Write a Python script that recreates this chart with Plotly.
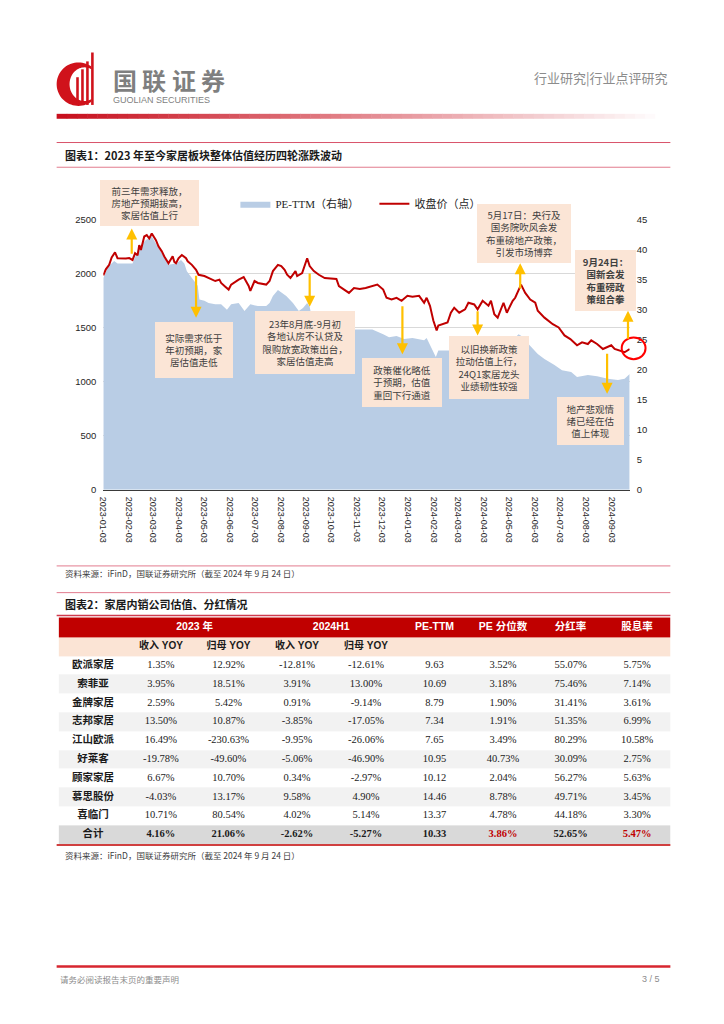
import math
import plotly.graph_objects as go

W, H = 724, 1024
def px(x): return x / W
def py(y): return 1 - y / H

# ---------------- chart data ----------------
close_dates = ['2023-01-03','2023-01-06','2023-01-10','2023-01-13','2023-01-17','2023-01-19','2023-01-20','2023-01-30',
 '2023-02-03','2023-02-07','2023-02-10','2023-02-13','2023-02-15','2023-02-17','2023-02-21','2023-02-24','2023-02-27',
 '2023-03-02','2023-03-07','2023-03-10','2023-03-14','2023-03-17','2023-03-20','2023-03-22','2023-03-27','2023-03-29',
 '2023-03-31','2023-04-03','2023-04-07','2023-04-12','2023-04-14','2023-04-19','2023-04-24','2023-04-27','2023-05-04',
 '2023-05-09','2023-05-12','2023-05-17','2023-05-22','2023-05-24','2023-05-29','2023-06-02','2023-06-05','2023-06-09',
 '2023-06-14','2023-06-20','2023-06-26','2023-06-28','2023-07-03','2023-07-07','2023-07-12','2023-07-17','2023-07-21',
 '2023-07-25','2023-07-31','2023-08-04','2023-08-08','2023-08-11','2023-08-15','2023-08-21','2023-08-23','2023-08-29',
 '2023-09-04','2023-09-07','2023-09-12','2023-09-18','2023-09-25','2023-10-09','2023-10-12','2023-10-18','2023-10-24',
 '2023-10-30','2023-11-06','2023-11-13','2023-11-21','2023-11-27','2023-12-04','2023-12-08','2023-12-14','2023-12-20',
 '2023-12-26','2024-01-02','2024-01-08','2024-01-16','2024-01-22','2024-01-25','2024-01-29','2024-02-02','2024-02-06',
 '2024-02-08','2024-02-19','2024-02-21','2024-02-23','2024-02-27','2024-03-04','2024-03-11','2024-03-15','2024-03-22',
 '2024-03-26','2024-04-01','2024-04-08','2024-04-11','2024-04-15','2024-04-19','2024-04-26','2024-04-30','2024-05-07',
 '2024-05-10','2024-05-14','2024-05-17','2024-05-22','2024-05-28','2024-06-03','2024-06-06','2024-06-14','2024-06-24',
 '2024-07-01','2024-07-08','2024-07-15','2024-07-23','2024-07-29','2024-08-05','2024-08-09','2024-08-16','2024-08-23',
 '2024-09-02','2024-09-06','2024-09-12','2024-09-18','2024-09-24']
close_vals = [1985,2040,2082,2150,2198,2150,2143,2140,
 2145,2127,2189,2170,2265,2219,2344,2357,2326,
 2372,2311,2253,2207,2160,2127,2097,2161,2110,
 2097,2143,2173,2143,2115,2082,2036,1990,1978,
 1960,1948,1932,1945,1914,1880,1853,1899,1920,
 1945,1969,1886,1840,1932,1914,1905,1899,1932,
 2024,2082,2070,2036,1990,1960,2024,1978,2005,
 2143,2070,2024,1990,1960,1951,1886,1853,1822,
 1868,1859,1868,1886,1899,1853,1777,1761,1777,
 1749,1795,1786,1795,1731,1777,1703,1566,1474,
 1520,1548,1593,1639,1685,1639,1670,1731,1715,
 1670,1749,1703,1749,1624,1593,1731,1639,1749,
 1777,1853,1899,1822,1761,1731,1657,1593,1532,
 1502,1429,1395,1337,1365,1349,1383,1349,1303,
 1337,1303,1291,1273,1303]

pe_dates = ['2023-01-03','2023-01-09','2023-01-16','2023-01-20','2023-02-07','2023-02-15','2023-02-23','2023-03-02',
 '2023-03-08','2023-03-14','2023-03-22','2023-03-31','2023-04-06','2023-04-10','2023-04-13','2023-04-19','2023-04-24',
 '2023-04-26','2023-04-28','2023-05-04','2023-05-09','2023-05-17','2023-05-24','2023-05-31','2023-06-05','2023-06-14',
 '2023-06-21','2023-06-28','2023-07-07','2023-07-17','2023-07-21','2023-07-25','2023-07-31','2023-08-10','2023-08-18',
 '2023-08-25','2023-08-30','2023-09-04','2023-09-07','2023-09-11','2023-09-15','2023-09-25','2023-10-12','2023-10-27',
 '2023-11-21','2023-12-04','2023-12-11','2023-12-20','2023-12-29','2024-01-08','2024-01-22','2024-01-25','2024-01-31',
 '2024-02-05','2024-02-08','2024-02-21','2024-02-26','2024-03-04','2024-03-15','2024-03-26','2024-04-08','2024-04-17',
 '2024-04-29','2024-05-07','2024-05-14','2024-05-20','2024-05-27','2024-06-06','2024-06-14','2024-06-26','2024-07-05',
 '2024-07-16','2024-07-23','2024-08-05','2024-08-16','2024-08-29','2024-09-10','2024-09-18','2024-09-24']
pe_vals = [35.3,37.2,38.1,37.7,37.7,40.5,41.6,42.2,
 40.8,39.4,37.5,37.7,38.3,37.7,36.4,35.3,34.4,
 34.0,31.7,31.5,31.1,30.9,30.9,30.0,30.9,31.1,
 29.8,30.9,30.6,30.6,31.1,32.3,33.3,32.3,31.1,
 29.8,30.3,31.1,30.5,27.6,27.3,27.0,26.5,26.7,
 26.7,25.9,25.4,25.6,25.1,25.3,24.9,25.3,23.5,
 22.1,23.2,23.2,24.3,24.0,24.6,24.3,24.6,24.1,
 24.5,24.9,25.9,25.4,24.1,22.6,21.8,20.8,19.9,
 19.6,18.8,19.1,18.9,18.5,18.3,18.5,19.3]

tick_dates = ['2023-01-03','2023-02-03','2023-03-03','2023-04-03','2023-05-03','2023-06-03','2023-07-03',
 '2023-08-03','2023-09-03','2023-10-03','2023-11-03','2023-12-03','2024-01-03','2024-02-03','2024-03-03',
 '2024-04-03','2024-05-03','2024-06-03','2024-07-03','2024-08-03','2024-09-03']

# ---------------- table data ----------------
names = ['欧派家居','索菲亚','金牌家居','志邦家居','江山欧派','好莱客','顾家家居','慕思股份','喜临门','合计']
rev23 = [1.35, 3.95, 2.59, 13.50, 16.49, -19.78, 6.67, -4.03, 10.71, 4.16]
np23 = [12.92, 18.51, 5.42, 10.87, -230.63, -49.60, 10.70, 13.17, 80.54, 21.06]
rev24 = [-12.81, 3.91, 0.91, -3.85, -9.95, -5.06, 0.34, 9.58, 4.02, -2.62]
np24 = [-12.61, 13.00, -9.14, -17.05, -26.06, -46.90, -2.97, 4.90, 5.14, -5.27]
pe_ttm = [9.63, 10.69, 8.79, 7.34, 7.65, 10.95, 10.12, 14.46, 13.37, 10.33]
pe_pct = [3.52, 3.18, 1.90, 1.91, 3.49, 40.73, 2.04, 8.78, 4.78, 3.86]
payout = [55.07, 75.46, 31.41, 51.35, 80.29, 30.09, 56.27, 49.71, 44.18, 52.65]
div_yield = [5.75, 7.14, 3.61, 6.99, 10.58, 2.75, 5.63, 3.45, 3.30, 5.47]
header_top = ['', '', '', '', '', 'PE-TTM', 'PE 分位数', '分红率', '股息率']
header_groups = ['2023 年', '2024H1']
header_sub = ['', '收入 YOY', '归母 YOY', '收入 YOY', '归母 YOY', '', '', '', '']

fig = go.Figure()
fig.add_trace(go.Scatter(x=pe_dates, y=pe_vals, name='PE-TTM（右轴）', mode='lines', fill='tozeroy',
                         fillcolor='#b9cde5', line=dict(width=0, color='#b9cde5'), yaxis='y', hoverinfo='skip'))
fig.add_trace(go.Scatter(x=close_dates, y=close_vals, name='收盘价（点）', mode='lines',
                         line=dict(color='#c00000', width=2), yaxis='y2', hoverinfo='skip'))

# ---------------- table on its own hidden axes ----------------
col_w = [69, 68, 68, 70, 69, 69, 69, 67, 67]
row_h = [20, 19] + [19] * len(names)
col_edges = [0]
for w in col_w:
    col_edges.append(col_edges[-1] + w)
row_edges = [0]
for h in row_h:
    row_edges.append(row_edges[-1] + h)
col_c = [(col_edges[i] + col_edges[i + 1]) / 2 for i in range(len(col_w))]
row_c = [(row_edges[i] + row_edges[i + 1]) / 2 for i in range(len(row_h))]

# fill category per row: 4=red header, 2=peach, 0=white, 1=grey, 3=total grey
row_cat = [4, 2] + [0 if i % 2 == 0 else 1 for i in range(len(names) - 1)] + [3]
z = [[c] * len(col_w) for c in row_cat]
cs_cols = ['#ffffff', '#f2f2f2', '#fbe4d5', '#d9d9d9', '#c00000']
colorscale = []
for k, c in enumerate(cs_cols):
    colorscale += [[k / 5, c], [(k + 1) / 5, c]]
fig.add_trace(go.Heatmap(x=col_edges, y=row_edges, z=z, zmin=-0.5, zmax=4.5, colorscale=colorscale,
                         showscale=False, hoverinfo='skip', xaxis='x2', yaxis='y3'))

def pct(v): return f'{v:.2f}%'
hx, hy, ht = [], [], []
hx += [(col_edges[1] + col_edges[3]) / 2, (col_edges[3] + col_edges[5]) / 2]
hy += [row_c[0], row_c[0]]
ht += [f'<b>{g}</b>' for g in header_groups]
for j, h in enumerate(header_top):
    if h:
        hx.append(col_c[j]); hy.append(row_c[0]); ht.append(f'<b>{h}</b>')
fig.add_trace(go.Scatter(x=hx, y=hy, text=ht, mode='text', xaxis='x2', yaxis='y3', hoverinfo='skip',
                         showlegend=False, textposition='middle center',
                         textfont=dict(family='Liberation Sans, Noto Sans CJK SC', size=10.5, color='white')))
sx, sy, st = [], [], []
for j, h in enumerate(header_sub):
    if h:
        sx.append(col_c[j]); sy.append(row_c[1]); st.append(f'<b>{h}</b>')
fig.add_trace(go.Scatter(x=sx, y=sy, text=st, mode='text', xaxis='x2', yaxis='y3', hoverinfo='skip',
                         showlegend=False, textposition='middle center',
                         textfont=dict(family='Liberation Sans, Noto Sans CJK SC', size=10, color='#1a1a1a')))
fig.add_trace(go.Scatter(x=[col_c[0]] * len(names), y=row_c[2:], text=[f'<b>{n}</b>' for n in names],
                         mode='text', xaxis='x2', yaxis='y3', hoverinfo='skip', showlegend=False,
                         textposition='middle center',
                         textfont=dict(family='Noto Sans CJK SC', size=10.5, color='#1a1a1a')))
num_cols = [[pct(v) for v in rev23], [pct(v) for v in np23], [pct(v) for v in rev24], [pct(v) for v in np24],
            [f'{v:.2f}' for v in pe_ttm], [pct(v) for v in pe_pct], [pct(v) for v in payout],
            [pct(v) for v in div_yield]]
nx, ny, nt, nc = [], [], [], []
last = len(names) - 1
for j, col in enumerate(num_cols, start=1):
    for i, s in enumerate(col):
        nx.append(col_c[j]); ny.append(row_c[2 + i])
        nt.append(f'<b>{s}</b>' if i == last else s)
        nc.append('#c00000' if (i == last and j in (6, 8)) else '#1a1a1a')
fig.add_trace(go.Scatter(x=nx, y=ny, text=nt, mode='text', xaxis='x2', yaxis='y3', hoverinfo='skip',
                         showlegend=False, textposition='middle center',
                         textfont=dict(family='Liberation Serif', size=10.5, color=nc)))

shapes = []
annotations = []

# ---- header logo ----
cx, cy = 74, 79
outer = [(cx + 22 * math.cos(math.radians(a)), cy - 22 * math.sin(math.radians(a))) for a in range(55, 306, 5)]
inner = [(cx + 6 + 15 * math.cos(math.radians(a)), cy - 17 * math.sin(math.radians(a))) for a in range(300, 59, -5)]
pts = outer + inner
path = 'M ' + ' L '.join(f'{px(x):.5f},{py(y):.5f}' for x, y in pts) + ' Z'
shapes.append(dict(type='path', xref='paper', yref='paper', path=path, fillcolor='#d0121b', line=dict(width=0)))
for bx, top in [(73, 72), (78, 64), (83, 56), (88, 47)]:
    shapes.append(dict(type='rect', xref='paper', yref='paper', x0=px(bx - 1.3), x1=px(bx + 1.3),
                       y0=py(100), y1=py(top), fillcolor='#d0121b', line=dict(width=0)))
for k, ch in enumerate('国联证券'):
    annotations.append(dict(xref='paper', yref='paper', x=px(121 + k * 29.5), y=py(74), xanchor='center',
                            yanchor='middle', text=f'<b>{ch}</b>', showarrow=False,
                            font=dict(family='Noto Sans CJK SC', size=24, color='#7f7f7f')))
annotations.append(dict(xref='paper', yref='paper', x=px(107), y=py(95), xanchor='left', yanchor='middle',
                        text='GUOLIAN SECURITIES', showarrow=False,
                        font=dict(family='Liberation Sans', size=9, color='#7f7f7f')))
annotations.append(dict(xref='paper', yref='paper', x=px(670), y=py(72), xanchor='right', yanchor='middle',
                        text='行业研究|行业点评研究', showarrow=False,
                        font=dict(family='Noto Sans CJK SC', size=13, color='#8c8c8c')))
n = 60
x0g, x1g = 52, 665
for i in range(n):
    t = i / (n - 1)
    r = int(200 + (255 - 200) * t)
    g = int(16 + (255 - 16) * t)
    b = int(30 + (255 - 30) * t)
    shapes.append(dict(type='rect', xref='paper', yref='paper',
                       x0=px(x0g + (x1g - x0g) * i / n), x1=px(x0g + (x1g - x0g) * (i + 1) / n + 0.5),
                       y0=py(114), y1=py(109), fillcolor=f'rgb({r},{g},{b})', line=dict(width=0)))

def hline(y, color, w=1, x0=52, x1=670):
    shapes.append(dict(type='line', xref='paper', yref='paper', x0=px(x0), x1=px(x1), y0=py(y), y1=py(y),
                       line=dict(color=color, width=w)))
hline(138, '#d9536a', 1)
hline(163, '#e27c8e', 1)
hline(566, '#e27c8e', 1)
hline(593, '#e27c8e', 1)
hline(616, '#cf3a4e', 1.5)
hline(848, '#c00000', 1.5)
hline(971, '#d7262f', 2.5)

def text(x, y, s, size=9, color='#404040', anchor='left', family='Noto Sans CJK SC'):
    annotations.append(dict(xref='paper', yref='paper', x=px(x), y=py(y), xanchor=anchor, yanchor='middle',
                            text=s, showarrow=False, font=dict(family=family, size=size, color=color)))

text(58, 151, '<b>图表1：2023 年至今家居板块整体估值经历四轮涨跌波动</b>', size=11, color='#1a1a1a')
text(58, 604, '<b>图表2：家居内销公司估值、分红情况</b>', size=11, color='#1a1a1a')
text(58, 573, '资料来源：iFinD，国联证券研究所（截至 2024 年 9 月 24 日）', size=8.5)
text(58, 858, '资料来源：iFinD，国联证券研究所（截至 2024 年 9 月 24 日）', size=8.5)
text(53, 984, '请务必阅读报告末页的重要声明', size=8.5, color='#8c8c8c')
text(662, 984, '3 / 5', size=9, color='#8c8c8c', anchor='right', family='Liberation Sans')

boxes = [
    (96, 195, 176, 222, '前三年需求释放，<br>房地产预期拔高，<br>家居估值上行', False),
    (151, 229, 320, 376, '实际需求低于<br>年初预期，家<br>居估值走低', False),
    (252, 352, 309, 372, '23年8月底-9月初<br>各地认房不认贷及<br>限购放宽政策出台，<br>家居估值走高', False),
    (360, 440, 356, 405, '政策催化略低<br>于预期，估值<br>重回下行通道', False),
    (447, 527, 334, 397, '以旧换新政策<br>拉动估值上行，<br>24Q1家居龙头<br>业绩韧性较强', False),
    (476, 570, 200, 259, '5月17日：央行及<br>国务院吹风会发<br>布重磅地产政策，<br>引发市场博弈', False),
    (556, 623, 396, 444, '地产悲观情<br>绪已经在估<br>值上体现', False),
    (574, 635, 247, 308, '9月24日：<br>国新会发<br>布重磅政<br>策组合拳', True),
]
for x0, x1, y0, y1, s, bold in boxes:
    annotations.append(dict(xref='paper', yref='paper', x=px((x0 + x1) / 2), y=py((y0 + y1) / 2),
                            xanchor='center', yanchor='middle', width=x1 - x0, height=y1 - y0,
                            text=f'<b>{s}</b>' if bold else s, showarrow=False, align='center', valign='middle',
                            bgcolor='#fbe5d6', borderpad=0, borderwidth=0,
                            font=dict(family='Noto Sans CJK SC', size=9.5, color='#404040')))

arrows = [
    ('2023-02-06', 2170, 2418), ('2023-04-24', 1996, 1593), ('2023-09-07', 2015, 1694),
    ('2023-12-27', 1712, 1255), ('2024-03-26', 1667, 1429), ('2024-05-16', 1850, 2097),
    ('2024-08-28', 1273, 888), ('2024-09-22', 1383, 1658),
]
for d, tail, head in arrows:
    annotations.append(dict(xref='x', yref='y2', axref='x', ayref='y2', x=d, y=head, ax=d, ay=tail,
                            text='', showarrow=True, arrowhead=2, arrowsize=1, arrowwidth=2.2,
                            arrowcolor='#ffc000', standoff=0, startstandoff=0))

shapes.append(dict(type='circle', xref='paper', yref='paper', x0=px(621), x1=px(645), y0=py(357), y1=py(335),
                   line=dict(color='#ff0000', width=2)))

tick_font = dict(family='Liberation Sans, Arial', size=9.5, color='#262626')
fig.update_layout(
    width=W, height=H, autosize=False, margin=dict(l=0, r=0, t=0, b=0),
    paper_bgcolor='white', plot_bgcolor='white',
    font=dict(family='Noto Sans CJK SC'),
    showlegend=True, hovermode=False,
    legend=dict(orientation='h', x=px(232), y=py(200), xanchor='left', yanchor='middle',
                entrywidth=94, entrywidthmode='pixels', bgcolor='rgba(0,0,0,0)',
                font=dict(family='Liberation Serif, Noto Sans CJK SC', size=11, color='#262626')),
    xaxis=dict(domain=[px(99), px(629)], type='date', range=['2023-01-03', '2024-09-24'],
               tickvals=tick_dates, ticktext=tick_dates, tickangle=90, showgrid=False,
               showline=True, linecolor='#3a3a3a', linewidth=1.2, ticks='', zeroline=False,
               tickfont=dict(family='Liberation Sans, Arial', size=9, color='#262626'), ticklabelstandoff=4),
    yaxis=dict(domain=[py(489), py(216)], range=[0, 45], dtick=5, side='right', showgrid=False,
               zeroline=False, showline=False, ticks='', tickfont=tick_font, ticklabelstandoff=6),
    yaxis2=dict(range=[0, 2500], dtick=500, overlaying='y', side='left', showgrid=True, gridcolor='#d9d9d9',
                gridwidth=1, zeroline=False, showline=False, ticks='', tickfont=tick_font, ticklabelstandoff=6),
    xaxis2=dict(domain=[px(54), px(670)], range=[0, col_edges[-1]], visible=False, anchor='y3', fixedrange=True),
    yaxis3=dict(domain=[py(847), py(618)], range=[row_edges[-1], 0], visible=False, anchor='x2', fixedrange=True),
    shapes=shapes, annotations=annotations,
)

fig.write_html('out.html', config={'displayModeBar': False, 'staticPlot': True},
               post_script="document.body.style.margin='0';document.body.style.overflow='hidden';")
